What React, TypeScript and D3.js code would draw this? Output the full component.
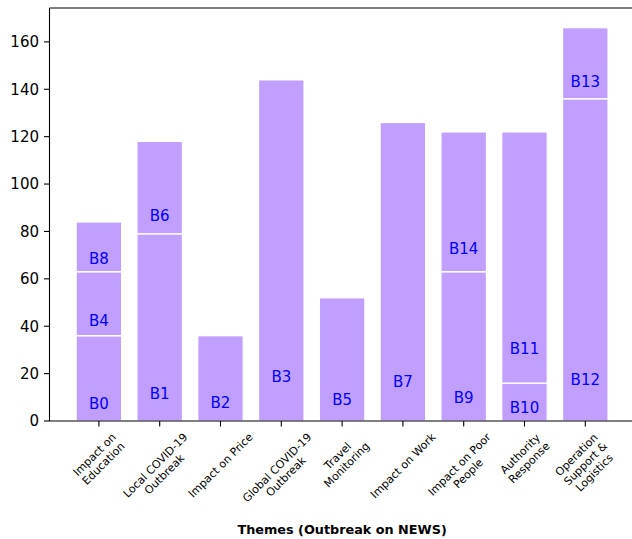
import React, { useMemo } from 'react';
import * as d3 from 'd3';

const categories = [
  'Impact on\nEducation',
  'Local COVID-19\nOutbreak',
  'Impact on Price',
  'Global COVID-19\nOutbreak',
  'Travel\nMonitoring',
  'Impact on Work',
  'Impact on Poor\nPeople',
  'Authority\nResponse',
  'Operation\nSupport &\nLogistics',
];

// stacked segments, drawn in this order (bottom layer first)
const segNames = ['B0', 'B1', 'B2', 'B3', 'B5', 'B7', 'B9', 'B10', 'B12', 'B4', 'B6', 'B14', 'B11', 'B13', 'B8'];
const segCategory = [0, 1, 2, 3, 4, 5, 6, 7, 8, 0, 1, 6, 7, 8, 0];
const segValues = [36, 79, 36, 144, 52, 126, 63, 16, 136, 27, 39, 59, 106, 30, 21];
const segLabelY = [7.4, 11.7, 7.6, 18.7, 9.2, 16.6, 10, 5.6, 17.3, 42.4, 86.6, 72.7, 30.5, 143.2, 68.7];

const yTicks = [0, 20, 40, 60, 80, 100, 120, 140, 160];
const xAxisTitle = 'Themes (Outbreak on NEWS)';

const W = 632;
const H = 539;
const FONT = 'DejaVu Sans, sans-serif';
const BAR_COLOR = '#c09fff';

function measure(text: string, size: number, weight = 'normal'): number {
  const c = document.createElement('canvas');
  const ctx = c.getContext('2d');
  if (!ctx) return text.length * size * 0.6;
  ctx.font = `${weight} ${size}px "DejaVu Sans"`;
  return ctx.measureText(text).width;
}

export default function App() {
  const barWidth = 0.75;
  const left = 49.5;
  const top = 8;
  const bottom = 421;
  const unit = 60.8;

  const segs = useMemo(() => {
    const acc: number[] = categories.map(() => 0);
    return segNames.map((name, k) => {
      const c = segCategory[k];
      const y0 = acc[c];
      const y1 = y0 + segValues[k];
      acc[c] = y1;
      return { name, c, y0, y1, ly: segLabelY[k] };
    });
  }, []);

  const totals = categories.map((_, i) => d3.sum(segs.filter((s) => s.c === i), (s) => s.y1 - s.y0));
  const ymax = (d3.max(totals) as number) * 1.05;
  const xmin = -barWidth / 2 - 0.05 * (categories.length - 1 + barWidth);
  const xmax = categories.length - 1 + barWidth / 2 + 0.05 * (categories.length - 1 + barWidth);

  const x = d3.scaleLinear().domain([xmin, xmax]).range([left, left + (xmax - xmin) * unit]);
  const y = d3.scaleLinear().domain([0, ymax]).range([bottom, top]);
  const right = x(xmax);

  const tickLen = 5.5;
  const tickFs = 11;
  const lh = tickFs * 1.15;

  return (
    <svg width={W} height={H} style={{ position: 'absolute', left: 0, top: 0, background: '#fff' }} fontFamily={FONT}>
      <rect x={0} y={0} width={W} height={H} fill="#fff" />
      {segs.map((s) => (
        <rect
          key={s.name}
          x={x(s.c - barWidth / 2)}
          y={y(s.y1)}
          width={x(s.c + barWidth / 2) - x(s.c - barWidth / 2)}
          height={y(s.y0) - y(s.y1)}
          fill={BAR_COLOR}
          stroke="#fff"
          strokeWidth={1.3}
        />
      ))}
      {segs.map((s) => (
        <text
          key={'l' + s.name}
          x={x(s.c)}
          y={y(s.ly)}
          dy="0.36em"
          textAnchor="middle"
          fontSize={15}
          fill="#0000ff"
        >
          {s.name}
        </text>
      ))}
      {/* spines */}
      <line x1={left} x2={left} y1={top} y2={bottom} stroke="#000" strokeWidth={1.1} />
      <line x1={left} x2={right} y1={top} y2={top} stroke="#000" strokeWidth={1.1} />
      <line x1={left} x2={right} y1={bottom} y2={bottom} stroke="#000" strokeWidth={1.1} />
      <line x1={right} x2={right} y1={top} y2={bottom} stroke="#000" strokeWidth={1.1} />
      {/* y ticks */}
      {yTicks.map((t) => (
        <g key={'y' + t}>
          <line x1={left - tickLen} x2={left} y1={y(t)} y2={y(t)} stroke="#000" strokeWidth={1.1} />
          <text x={left - tickLen - 5} y={y(t)} dy="0.36em" textAnchor="end" fontSize={15} fill="#000">
            {t}
          </text>
        </g>
      ))}
      {/* x ticks */}
      {categories.map((cat, i) => {
        const lines = cat.split('\n');
        const tw = d3.max(lines, (l) => measure(l, tickFs)) as number;
        const th = lines.length * lh;
        const half = (tw + th) / (2 * Math.SQRT2);
        const cy = bottom + tickLen + 4 + half;
        return (
          <g key={'x' + i}>
            <line x1={x(i)} x2={x(i)} y1={bottom} y2={bottom + tickLen} stroke="#000" strokeWidth={1.1} />
            <g transform={`translate(${x(i)},${cy}) rotate(-45)`}>
              {lines.map((l, j) => (
                <text
                  key={j}
                  x={0}
                  y={(j - (lines.length - 1) / 2) * lh}
                  dy="0.36em"
                  textAnchor="middle"
                  fontSize={tickFs}
                  fill="#000"
                >
                  {l}
                </text>
              ))}
            </g>
          </g>
        );
      })}
      <text x={(left + right) / 2} y={534} textAnchor="middle" fontSize={12.8} fontWeight="bold" fill="#000">
        {xAxisTitle}
      </text>
    </svg>
  );
}
